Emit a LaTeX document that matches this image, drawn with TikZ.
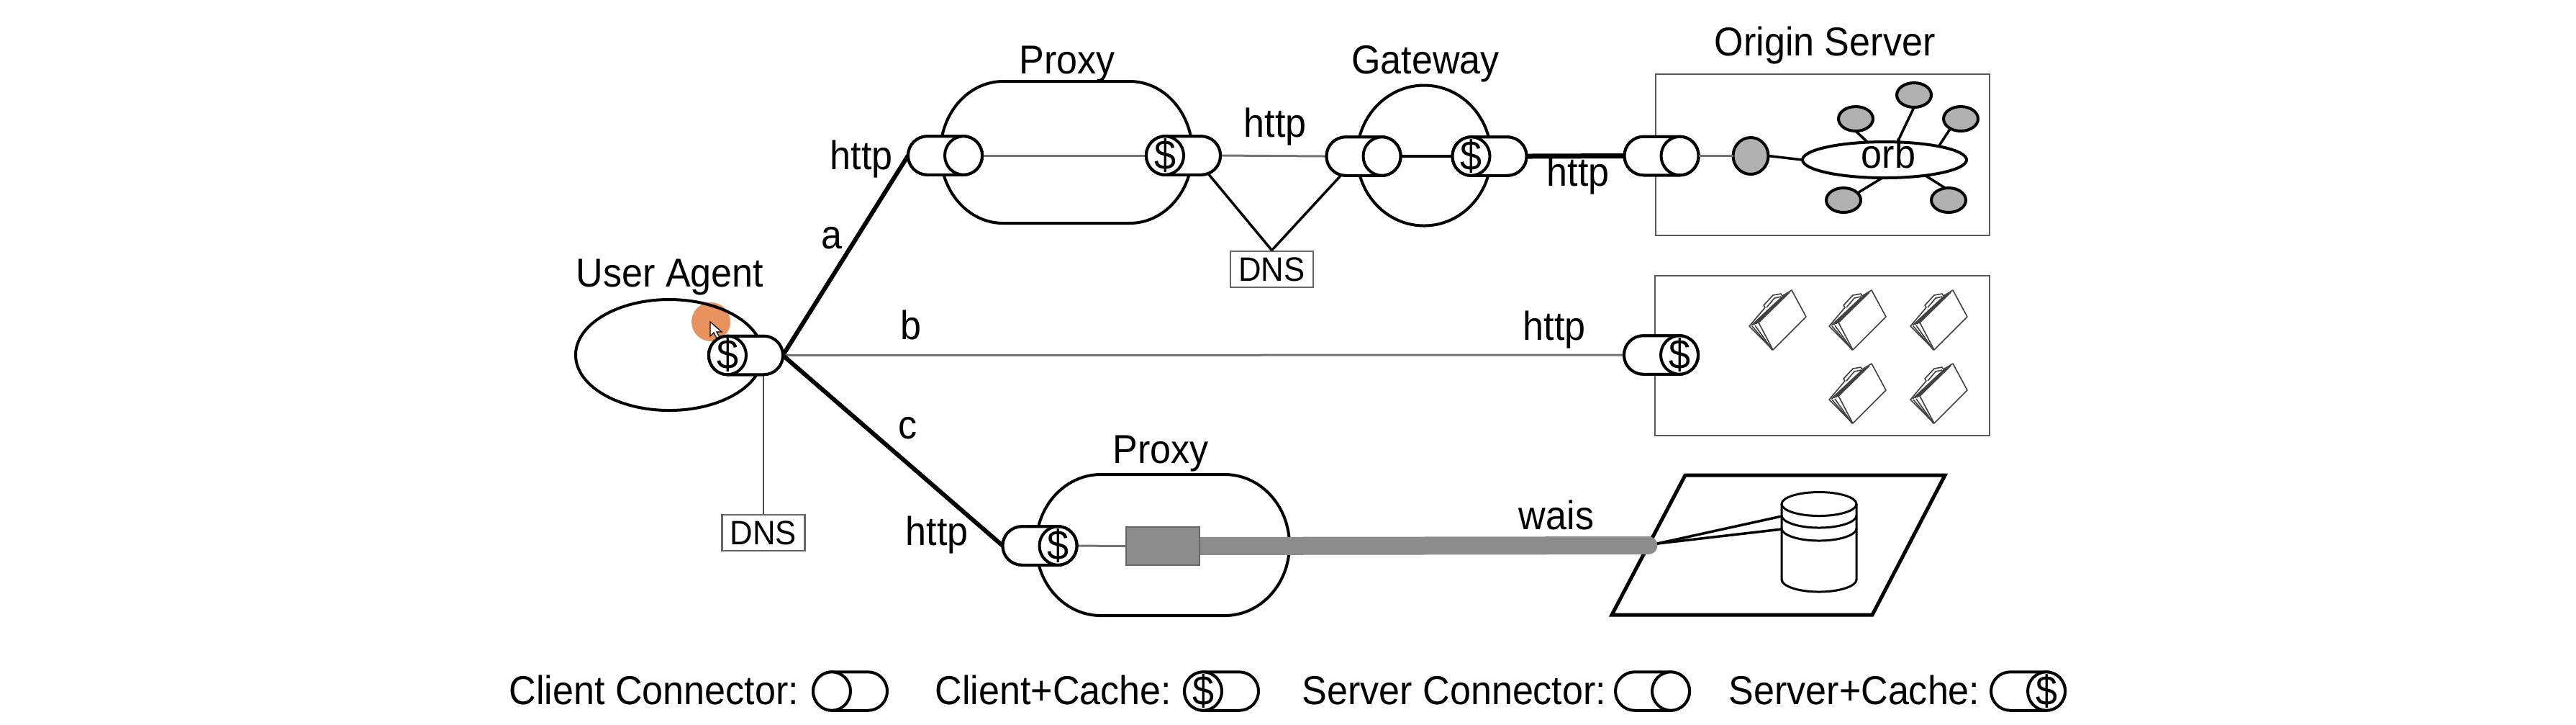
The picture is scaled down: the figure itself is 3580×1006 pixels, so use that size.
\documentclass[tikz,border=0pt]{standalone}
\usepackage{fontspec}
\setmainfont{Liberation Sans}[FakeStretch=0.93]
\usetikzlibrary{shapes.geometric,shapes.misc,calc}
\definecolor{thing}{HTML}{B0B0B0}
\definecolor{band}{HTML}{8C8C8C}
\definecolor{spot}{HTML}{E8925E}
\tikzset{
  x=0.2pt,y=-0.2pt,
  lbl/.style={inner sep=0pt,outer sep=0pt,anchor=base,font=\fontsize{11.2pt}{13pt}\selectfont},
  dnsbox/.style={draw=black!60,line width=0.55pt,fill=white,inner sep=0pt,minimum width=23pt,minimum height=10pt,font=\fontsize{9.4pt}{11pt}\selectfont},
  plugbody/.style={rounded rectangle,draw,fill=white,line width=0.8pt,minimum width=20.6pt,minimum height=10.7pt,inner sep=0pt,outer sep=0pt},
  plugend/.style={ellipse,draw,fill=white,line width=0.8pt,minimum width=10.4pt,minimum height=10.7pt,inner sep=0pt,outer sep=0pt},
  dollar/.style={inner sep=0pt,outer sep=0pt,font=\fontsize{11.6pt}{13pt}\selectfont},
  outline/.style={draw,line width=0.8pt},
  thinline/.style={draw=black!55,line width=0.6pt},
  hairline/.style={draw=black!70,line width=0.5pt},
  midline/.style={draw,line width=0.7pt},
  heavyline/.style={draw,line width=1.2pt},
  frame/.style={draw=black!65,line width=0.55pt},
  orbnode/.style={ellipse,draw,fill=thing,line width=0.8pt,inner sep=0pt,outer sep=0pt,minimum width=9.6pt,minimum height=6.8pt},
  folderline/.style={draw=black!75,line width=0.32pt,line join=round},
}
\newcommand{\plug}[4]{% name, x, y, side of the end ellipse
  \node[plugbody] (#1) at (#2,#3) {};
  \node[plugend,anchor=#4] (#1e) at (#1.#4) {};}
\newcommand{\cacheplug}[4]{%
  \plug{#1}{#2}{#3}{#4}
  \node[dollar] (#1d) at (#1e) {\$};}
\newcommand{\folderico}[2]{%
  \begin{scope}[shift={(#1,#2)}]
    \path[folderline,fill=white] (0,50) -- (22,24) -- (20,21) -- (33,7) -- (44,5) -- (46,8) -- (59,0) -- (79,37) -- (33,83) -- cycle;
    \draw[folderline] (3,49) -- (48,7);
    \draw[folderline] (6,48) -- (50,6);
    \draw[folderline] (9,47) -- (53,5);
    \draw[folderline] (12,46) -- (56,3);
    \draw[folderline] (4,50) -- (32,83);
    \draw[folderline] (8,49) -- (32,83);
    \draw[folderline] (13,45) -- (33,83);
    \draw[folderline] (24,24) -- (35,11) -- (44,9);
  \end{scope}}
\begin{document}
\begin{tikzpicture}
\useasboundingbox (0,0) rectangle (3580,1006);
% containers
\fill[spot] (988,447) circle (27);
\node[ellipse,draw,line width=0.8pt,inner sep=0pt,outer sep=0pt,minimum width=52pt,minimum height=30.8pt] (agent) at (930,493) {};
\path[fill=white,draw=black,line width=0.25pt] (987,447) -- (987,467) -- (992,462) -- (996,470) -- (1000,468) -- (996,461) -- (1003,461) -- cycle;
\draw[outline] (1394,113) -- (1570,113) .. controls (1618,113) and (1657,157) .. (1657,211.5) .. controls (1657,266) and (1618,310) .. (1570,310) -- (1394,310) .. controls (1346,310) and (1307,266) .. (1307,211.5) .. controls (1307,157) and (1346,113) .. (1394,113) -- cycle;
\node[ellipse,draw,line width=0.8pt,inner sep=0pt,outer sep=0pt,minimum width=37.2pt,minimum height=39pt] (gateway) at (1979,216) {};
\draw[outline] (1530,659) -- (1702,659) .. controls (1752,659) and (1792,703) .. (1792,757) .. controls (1792,811) and (1752,855) .. (1702,855) -- (1530,855) .. controls (1480,855) and (1440,811) .. (1440,757) .. controls (1440,703) and (1480,659) .. (1530,659) -- cycle;
\draw[frame] (2301,103) rectangle (2765,327);
\draw[frame] (2300,383) rectangle (2765,605);
\draw[draw,line width=1pt] (2342,660) -- (2703,660) -- (2602,854) -- (2240,854) -- cycle;
% labels
\node[lbl] (tProxyA) at (1483,102) {Proxy};
\node[lbl] (tGateway) at (1981,102) {Gateway};
\node[lbl] (tOrigin) at (2536,77) {Origin Server};
\node[lbl] (tAgent) at (931,398) {User Agent};
\node[lbl] (tProxyC) at (1613,643) {Proxy};
\node[lbl] (tHttpA) at (1197,235) {http};
\node[lbl] (tHttpB) at (1772,190) {http};
\node[lbl] (tHttpC) at (2193,258) {http};
\node[lbl] (tHttpD) at (2160,472) {http};
\node[lbl] (tHttpE) at (1302,757) {http};
\node[lbl] (tWais) at (2163,735) {wais};
\node[lbl] (ta) at (1156,345) {a};
\node[lbl] (tb) at (1266,471) {b};
\node[lbl] (tc) at (1261,609) {c};
% connector shapes
\cacheplug{ua}{1036.5}{493.5}{west}
\plug{pa}{1313.5}{216}{east}
\cacheplug{pb}{1644.5}{216}{west}
\plug{ga}{1895}{217}{east}
\cacheplug{gb}{2070}{217}{west}
\plug{os}{2309}{216.5}{east}
\cacheplug{sb}{2308.5}{493}{east}
\cacheplug{pc}{1445}{758}{east}
% DNS
\node[dnsbox] (dnsA) at (1767.5,374) {DNS};
\node[dnsbox] (dnsB) at (1061,740) {DNS};
% internals
\node[inner sep=0pt,outer sep=0pt,fill=band,draw=black!60,line width=0.3pt,minimum width=20.4pt,minimum height=10.6pt] (sq) at (1616,758.5) {};
\coordinate (tip) at (2303,755);
\coordinate (bandend) at (2291,757.5);
\draw[line width=5pt,band,line cap=round] (sq.center) -- (bandend);
\node[inner sep=0pt,outer sep=0pt,fill=band,draw=black!60,line width=0.3pt,minimum width=20.4pt,minimum height=10.6pt] at (sq) {};
% links
\draw[thinline] (pae) -- (pbe);
\draw[thinline] (pb.east) -- (ga.west);
\draw[midline] (gae.east) -- (gbe.west);
\draw[draw,line width=1.4pt] (gb.east) -- (os.west);
\draw[heavyline] (ua.east) -- (pa.west);
\draw[thinline] (ua.east) -- (sb.west);
\draw[heavyline] (ua.east) -- (pc.west);
\draw[thinline] (pce.east) -- (sq.west);
\draw[midline] (pb.-36) -- (dnsA.north);
\draw[midline] (ga.220) -- (dnsA.north);
\draw[hairline] (dnsB.north) -- (dnsB.north |- ua.south);
\plug{pa}{1313.5}{216}{east}
\cacheplug{pb}{1644.5}{216}{west}
\plug{ga}{1895}{217}{east}
\cacheplug{gb}{2070}{217}{west}
\plug{os}{2309}{216.5}{east}
\cacheplug{sb}{2308.5}{493}{east}
\cacheplug{pc}{1445}{758}{east}
\cacheplug{ua}{1036.5}{493.5}{west}
% orb
\node[ellipse,draw,fill=white,line width=0.8pt,inner sep=0pt,outer sep=0pt,minimum width=45.6pt,minimum height=10pt] (orb) at (2619,222) {};
\node[lbl] (torb) at (2624.5,233) {orb};
\node[orbnode,minimum width=9.8pt,minimum height=10.2pt] (gn) at (2433,216.5) {};
\node[orbnode] (s1) at (2660,132) {};
\node[orbnode] (s2) at (2579,165) {};
\node[orbnode] (s3) at (2725,165) {};
\node[orbnode] (s4) at (2562,278) {};
\node[orbnode] (s5) at (2708,278) {};
\draw[thinline] (ose.east) -- (gn.west);
\draw[midline] (gn.east) -- (orb.west);
\draw[midline] (s1.south) -- (orb.54);
\draw[midline] (s2.south) -- (orb.134);
\draw[midline] (s3.223) -- (orb.14);
\draw[midline] (s4.27) -- (orb.263);
\draw[midline] (s5.105) -- (orb.339);
% folders
\folderico{2431}{403}
\folderico{2542}{403}
\folderico{2655}{403}
\folderico{2542}{505}
\folderico{2655}{505}
% database
\draw[midline,line width=0.6pt] (2476,700) -- (2476,805) .. controls (2476,814) and (2499,822) .. (2528,822) .. controls (2557,822) and (2580,814) .. (2580,805) -- (2580,700);
\draw[midline,line width=0.6pt] (2476,716) .. controls (2476,725) and (2499,733) .. (2528,733) .. controls (2557,733) and (2580,725) .. (2580,716);
\draw[midline,line width=0.6pt] (2476,734) .. controls (2476,743) and (2499,751) .. (2528,751) .. controls (2557,751) and (2580,743) .. (2580,734);
\node[ellipse,draw,line width=0.6pt,inner sep=0pt,outer sep=0pt,minimum width=20.8pt,minimum height=6.6pt] (cyl) at (2528,700) {};
\coordinate (cylA) at (2476,717);
\coordinate (cylB) at (2476,735);
\draw[midline] (tip) -- (cylA);
\draw[midline] (tip) -- (cylB);
% legend
\node[lbl] (lA) at (909,978) {Client Connector:};
\plug{kA}{1181.5}{960}{west}
\node[lbl] (lB) at (1464,978) {Client+Cache:};
\cacheplug{kB}{1697.5}{960}{west}
\node[lbl] (lC) at (2021,978) {Server Connector:};
\plug{kC}{2296.5}{960}{east}
\node[lbl] (lD) at (2577,978) {Server+Cache:};
\cacheplug{kD}{2818.5}{960}{east}
\end{tikzpicture}
\end{document}
